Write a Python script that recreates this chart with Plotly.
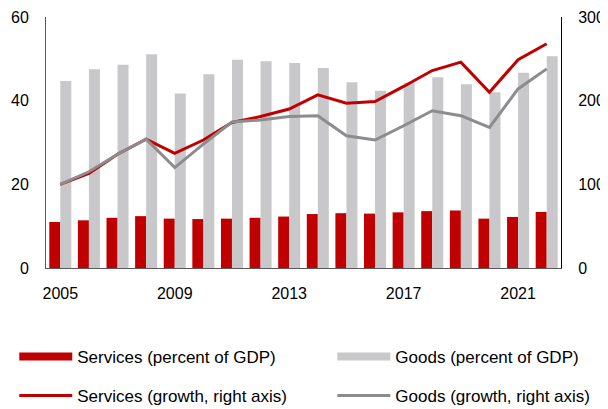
import plotly.graph_objects as go

years = list(range(2005, 2023))
services_gdp = [11.0, 11.4, 12.0, 12.4, 11.8, 11.7, 11.8, 12.0, 12.3, 12.9, 13.1, 13.0, 13.3, 13.6, 13.75, 11.8, 12.2, 13.4]
goods_gdp = [44.7, 47.5, 48.6, 51.1, 41.7, 46.3, 49.8, 49.4, 49.0, 47.8, 44.4, 42.4, 44.3, 45.6, 43.9, 42.0, 46.7, 50.6]
services_growth = [100, 113, 136, 154, 137, 153, 174, 181, 190, 207, 197, 199, 217, 236, 246, 210, 249, 268]
goods_growth = [100, 115, 136, 154, 120, 148, 174.5, 177, 181, 182, 158, 153, 170, 188, 182, 168, 214, 238]
x_ticks = [2005, 2009, 2013, 2017, 2021]
left_ticks = [0, 20, 40, 60]
right_ticks = [0, 100, 200, 300]

RED = "#C00000"
GREY_BAR = "#C8C8CA"
GREY_LINE = "#8C8C8E"
FONT = dict(family="Liberation Sans, Arial, sans-serif", size=16, color="#000000")
LFONT = dict(family="Liberation Sans, Arial, sans-serif", size=17, color="#000000")

fig = go.Figure()
fig.add_trace(go.Bar(x=years, y=services_gdp, marker=dict(color=RED, line=dict(width=0)),
                     name="Services (percent of GDP)", showlegend=False, offsetgroup="s"))
fig.add_trace(go.Bar(x=years, y=goods_gdp, marker=dict(color=GREY_BAR, line=dict(width=0)),
                     name="Goods (percent of GDP)", showlegend=False, offsetgroup="g"))
fig.add_trace(go.Scatter(x=years, y=services_growth, yaxis="y2", mode="lines",
                         line=dict(color=RED, width=3), showlegend=False))
fig.add_trace(go.Scatter(x=years, y=goods_growth, yaxis="y2", mode="lines",
                         line=dict(color=GREY_LINE, width=3), showlegend=False))

# legend entries (one legend box per entry so each can be placed like the original)
fig.add_trace(go.Scatter(x=[None], y=[None], mode="lines", line=dict(color=RED, width=8),
                         name="Services (percent of GDP)", legend="legend"))
fig.add_trace(go.Scatter(x=[None], y=[None], mode="lines", line=dict(color=GREY_BAR, width=8),
                         name="Goods (percent of GDP)", legend="legend2"))
fig.add_trace(go.Scatter(x=[None], y=[None], mode="lines", line=dict(color=RED, width=3),
                         name="Services (growth, right axis)", legend="legend3"))
fig.add_trace(go.Scatter(x=[None], y=[None], mode="lines", line=dict(color=GREY_LINE, width=3),
                         name="Goods (growth, right axis)", legend="legend4"))

LEG = dict(orientation="h", xanchor="left", yanchor="middle",
           font=LFONT, bgcolor="rgba(0,0,0,0)", itemwidth=53)
COL1, COL2 = -0.0616, 0.556
ROW1, ROW2 = -0.3546, -0.51

# page body adds an 8px offset, so the figure is 8px smaller and margins shifted
fig.update_layout(
    width=600, height=401,
    margin=dict(l=38, r=47, t=9, b=141, autoexpand=False),
    paper_bgcolor="white", plot_bgcolor="white",
    font=FONT,
    barmode="group", bargap=0.23, bargroupgap=0,
    xaxis=dict(range=[2004.5, 2022.5], tickvals=x_ticks, ticks="", showgrid=False,
               showline=True, linecolor="#595959", linewidth=1, zeroline=False,
               ticklabelstandoff=11, tickfont=FONT, automargin=False),
    yaxis=dict(range=[0, 60], tickvals=left_ticks, ticks="", showgrid=False,
               showline=True, linecolor="#595959", linewidth=1, zeroline=False,
               ticklabelstandoff=13, tickfont=FONT, automargin=False),
    yaxis2=dict(range=[0, 300], tickvals=right_ticks, ticks="", showgrid=False,
                overlaying="y", side="right", showline=True, linecolor="#000000",
                linewidth=1, zeroline=False, ticklabelstandoff=13, tickfont=FONT,
                automargin=False),
    legend=dict(LEG, x=COL1, y=ROW1),
    legend2=dict(LEG, x=COL2, y=ROW1),
    legend3=dict(LEG, x=COL1, y=ROW2),
    legend4=dict(LEG, x=COL2, y=ROW2),
)

fig.write_html("out.html")
